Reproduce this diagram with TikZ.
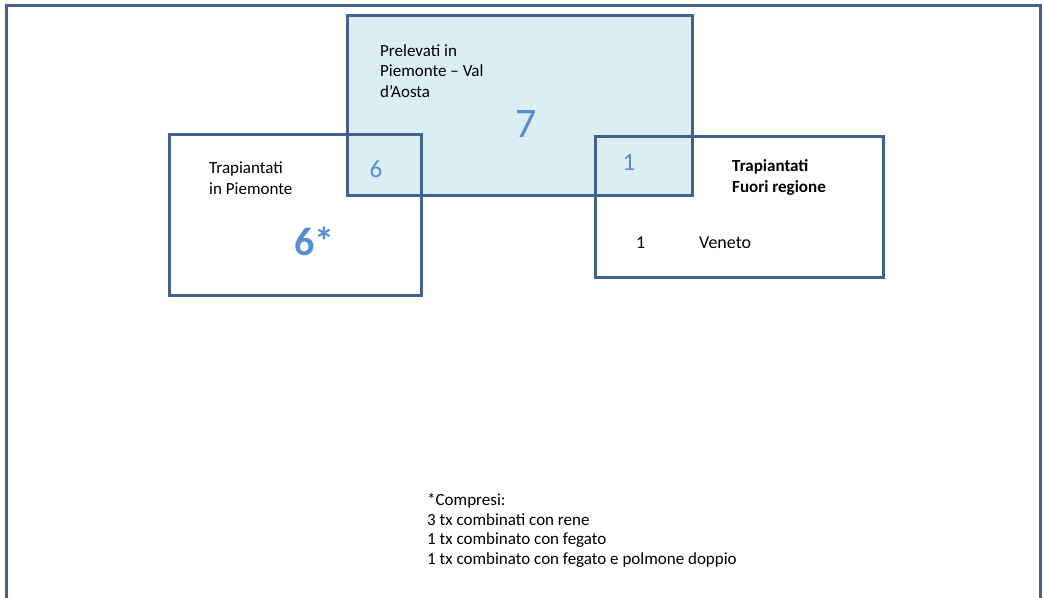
\documentclass[tikz,border=0pt]{standalone}
\usepackage{fontspec}
\setmainfont{Carlito}
\definecolor{frameblue}{HTML}{41628F}
\definecolor{paleblue}{HTML}{DBEEF4}
\definecolor{numblue}{HTML}{558ED5}
\usetikzlibrary{positioning}

\begin{document}
\begin{tikzpicture}[x=1pt, y=-1pt,
  region/.style={draw=frameblue, line width=3pt, inner sep=0pt},
  lbl/.style={inner sep=0pt, anchor=base west, align=left,
    font=\fontsize{17}{20.5}\selectfont},
  num/.style={inner sep=0pt, anchor=base, text=numblue},
]
\useasboundingbox (0,0) rectangle (1044,597);

% ---- outer frame (open at the bottom) ----
\draw[frameblue, line width=3pt] (6,600) -- (6,5) -- (1040,5) -- (1040,600);

% ---- sets ----
\node[region, fill=paleblue, minimum width=345pt, minimum height=180pt]
  (prel) at (519.5,105) {};
\node[region, minimum width=252pt, minimum height=161pt]
  (trpie) at (295,214.5) {};
\node[region, minimum width=288pt, minimum height=141pt]
  (trfuori) at (739,206.5) {};

% ---- set labels (base = last line) ----
\node[lbl] (prel-lbl) at (380,97) {Prelevati in\\Piemonte -- Val\\d’Aosta};
\node[lbl] (trpie-lbl) at (209,194) {Trapiantati\\in Piemonte};
\node[lbl, font=\fontsize{17}{21}\selectfont\bfseries]
  (trfuori-lbl) at (732,192) {Trapiantati\\Fuori regione};

% ---- counts ----
\node[num, font=\fontsize{42}{42}\selectfont] (n-prel) at (526,137) {7};
\node[num, font=\fontsize{25}{25}\selectfont] (n-pie) at (376,177) {6};
\node[num, font=\fontsize{25}{25}\selectfont] (n-fuori) at (629,170) {1};
\node[num, anchor=base west, font=\fontsize{40}{40}\selectfont\bfseries]
  (n-tot) at (294,255) {6*};
\node[lbl, font=\fontsize{18}{18}\selectfont] (n-ven) at (636,248) {1};
\node[lbl, font=\fontsize{18}{18}\selectfont] (ven) at (699,248) {Veneto};

% ---- footnote ----
\node[lbl, font=\fontsize{17}{19.5}\selectfont] (note) at (427,564)
  {*Compresi:\\3 tx combinati con rene\\1 tx combinato con fegato\\
   1 tx combinato con fegato e polmone doppio};

\end{tikzpicture}
\end{document}
